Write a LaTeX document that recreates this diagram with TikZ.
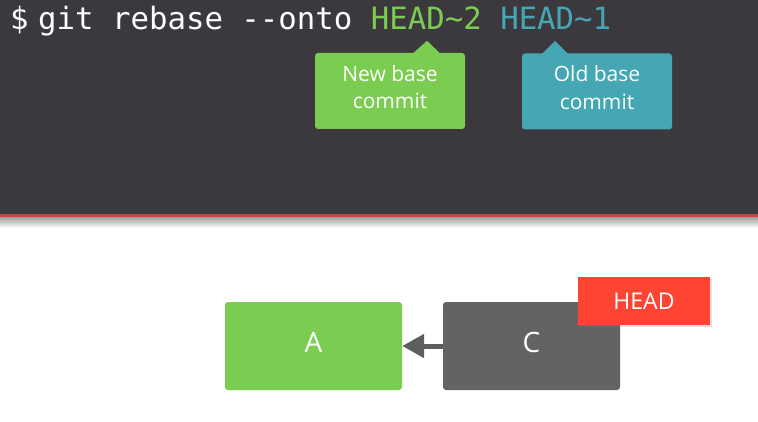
\documentclass[tikz,border=0pt]{standalone}
\usepackage{fontspec}
\setmainfont{Open Sans}
\newfontfamily\cmdfont{DejaVu Sans Mono}
\usetikzlibrary{arrows.meta,shadows,calc}

\definecolor{band}{HTML}{3B393D}
\definecolor{bandedge}{HTML}{C4473A}
\definecolor{gitgreen}{HTML}{7BCD52}
\definecolor{gitteal}{HTML}{45A7B4}
\definecolor{commitgray}{HTML}{636366}
\definecolor{arrowgray}{HTML}{5E5E61}
\definecolor{headred}{HTML}{FE4433}

\tikzset{
  cmdtext/.style={anchor=base west, inner sep=0pt, text=white,
    font=\cmdfont\fontsize{30.7}{36}\selectfont},
  callout/.style={rounded corners=3pt, minimum width=150pt, minimum height=76pt,
    inner sep=0pt},
  callouttext/.style={text=white, align=center, inner sep=0pt,
    font=\fontsize{21}{27.5}\selectfont},
  commit/.style={rounded corners=3pt, minimum width=177pt, minimum height=88pt,
    inner sep=0pt, text=white, font=\fontsize{28}{32}\selectfont,
    text height=20pt, text depth=8pt},
  headref/.style={fill=headred, minimum width=132pt, minimum height=48pt,
    inner sep=0pt, text=white, font=\fontsize{23}{26}\selectfont,
    drop shadow={shadow xshift=1.5pt, shadow yshift=-1.5pt, opacity=0.25}},
  parentlink/.style={arrowgray, line width=5pt,
    -{Triangle[length=22pt, width=23pt]}}
}

\begin{document}
\begin{tikzpicture}[x=1pt, y=-1pt]
  \useasboundingbox (0,0) rectangle (758,422);
  \fill[white] (0,0) rectangle (758,422);

  % terminal band with its red edge and soft shadow
  \shade[top color=black!38, bottom color=white] (0,217) rectangle (758,228);
  \fill[band] (0,0) rectangle (758,215);
  \fill[bandedge] (0,214.5) rectangle (758,217.5);

  % command line
  \node[cmdtext] (prompt) at (10,30) {\$};
  \node[cmdtext] (cmd) at (38,30)
    {git rebase -{}-onto \textcolor{gitgreen}{HEAD\char"7E 2} \textcolor{gitteal}{HEAD\char"7E 1}};

  % callouts under the two arguments
  \node[callout, fill=gitgreen] (newbase) at (390,91) {};
  \fill[gitgreen] ($(newbase.north)+(23,0.5)$) -- ($(newbase.north)+(37,-12)$)
    -- ($(newbase.north)+(50,0.5)$) -- cycle;
  \node[callouttext] (newbasetext) at ([yshift=4pt]newbase.center) {New base\\commit};
  \node[callout, fill=gitteal] (oldbase) at (597,91.5) {};
  \fill[gitteal] ($(oldbase.north)+(-55,0.5)$) -- ($(oldbase.north)+(-42,-12.5)$)
    -- ($(oldbase.north)+(-29,0.5)$) -- cycle;
  \node[callouttext] (oldbasetext) at ([yshift=4pt]oldbase.center) {Old base\\commit};

  % commit graph
  \node[commit, fill=gitgreen] (A) at (313.5,346) {A};
  \node[commit, fill=commitgray] (C) at (531.5,346) {C};
  \node[headref] (head) at (644,301) {HEAD};
  \draw[parentlink] (C.west) -- (A.east);
\end{tikzpicture}
\end{document}
